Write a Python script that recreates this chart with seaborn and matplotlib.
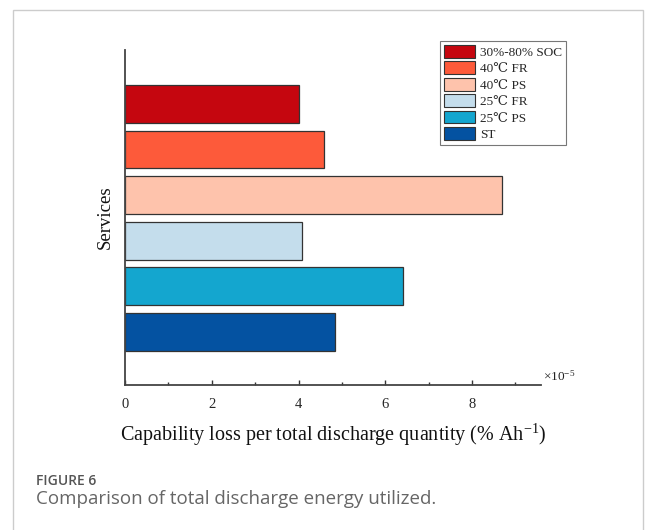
import matplotlib
matplotlib.use("Agg")
import matplotlib.pyplot as plt
from matplotlib.patches import Rectangle
from matplotlib.ticker import MultipleLocator
import seaborn as sns
import pandas as pd

# Capability loss per total discharge quantity, in units of 1e-5 %/Ah
services = ["30%-80% SOC", "40\u2103 FR", "40\u2103 PS", "25\u2103 FR", "25\u2103 PS", "ST"]
loss = [4.02, 4.58, 8.70, 4.08, 6.42, 4.84]
colors = ["#C5060F", "#FD5A3A", "#FEC3AC", "#C4DDEC", "#14A6CF", "#0452A1"]

df = pd.DataFrame({"service": services, "loss": loss})

sns.set_style("white")
serif = ["Liberation Serif", "DejaVu Serif"]
plt.rcParams["font.family"] = serif
plt.rcParams["mathtext.fontset"] = "custom"
plt.rcParams["mathtext.rm"] = "Liberation Serif"
plt.rcParams["mathtext.default"] = "regular"

fig = plt.figure(figsize=(6.56, 5.30), dpi=100)
ax = fig.add_axes([125 / 656, 1 - 385 / 530, (541 - 125) / 656, (385 - 50) / 530])

sns.barplot(data=df, x="loss", y="service", hue="service", order=services,
            hue_order=services, palette=colors, saturation=1, orient="h", width=0.83,
            edgecolor="#333333", linewidth=0.9, dodge=False, legend=True, ax=ax)

ax.set_xlim(0, 9.59)
ax.set_ylim(6.16, -1.18)
ax.set_yticks([])
ax.xaxis.set_major_locator(MultipleLocator(2))
ax.xaxis.set_minor_locator(MultipleLocator(1))
ax.tick_params(axis="x", which="major", direction="in", length=3.5, width=1,
               color="#333333", labelsize=10.5, pad=9, bottom=True)
ax.tick_params(axis="x", which="minor", direction="in", length=2.5, width=1,
               color="#333333", bottom=True)
for lbl in ax.get_xticklabels():
    lbl.set_family(serif)

for side in ["top", "right"]:
    ax.spines[side].set_visible(False)
for side in ["left", "bottom"]:
    ax.spines[side].set_color("#444444")
    ax.spines[side].set_linewidth(1.3)

ax.set_xlabel("Capability loss per total discharge quantity (% Ah$^{-1}$)",
              fontsize=14.5, labelpad=8, family=serif, color="#111111")
ax.set_ylabel("Services", fontsize=13.5, labelpad=8, family=serif, color="#111111")
ax.text(1.005, 0.025, "\u00d710$^{-5}$", transform=ax.transAxes, fontsize=9.5,
        ha="left", va="center", family=serif, color="#222222")

leg = ax.legend(loc="upper right", bbox_to_anchor=(566 / 656, 1 - 41 / 530),
                bbox_transform=fig.transFigure, borderaxespad=0, frameon=True,
                fancybox=False, prop={"family": serif, "size": 9.5},
                handlelength=2.4, handleheight=1.1, handletextpad=0.35,
                labelspacing=0.2, borderpad=0.3, title=None)
leg.get_frame().set_edgecolor("#555555")
leg.get_frame().set_linewidth(0.8)
for h in leg.legend_handles:
    h.set_edgecolor("#333333")
    h.set_linewidth(0.8)

# Card frame and caption
fig.patches.append(Rectangle((13 / 656, -0.05), (643 - 13) / 656, 1 - 10 / 530 + 0.05,
                             transform=fig.transFigure, fill=False,
                             edgecolor="#cccccc", linewidth=1.0, zorder=0))
fig.text(36 / 656, 1 - 481 / 530, "FIGURE 6", fontsize=10, fontweight="semibold",
         family=["Open Sans", "DejaVu Sans"], color="#555555", va="center", ha="left")
fig.text(36 / 656, 1 - 499 / 530, "Comparison of total discharge energy utilized.",
         fontsize=13.5, family=["Open Sans", "DejaVu Sans"], color="#666666",
         va="center", ha="left")

fig.savefig("out.png", dpi=100)
